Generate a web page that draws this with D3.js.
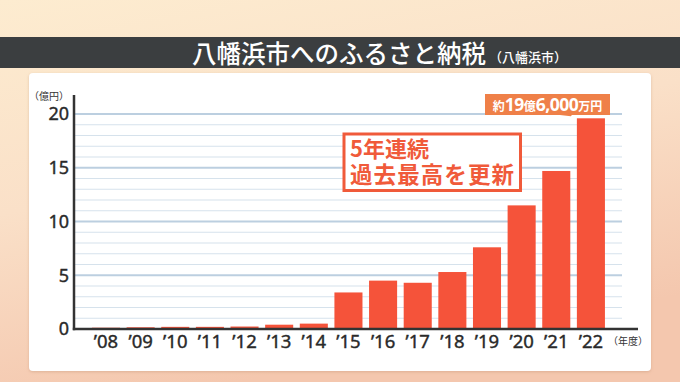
<!DOCTYPE html>
<html>
<head>
<meta charset="utf-8">
<script src="https://cdn.jsdelivr.net/npm/d3@7"></script>
<style>
  body { margin: 0; }
  text { font-family: "Noto Sans", "Noto Sans CJK JP", sans-serif; }
</style>
</head>
<body>
<div id="container"></div>
<script>
// data
const years = ["08", "09", "10", "11", "12", "13", "14", "15", "16", "17", "18", "19", "20", "21", "22"];
const amounts = [0.12, 0.16, 0.2, 0.2, 0.23, 0.4, 0.5, 3.4, 4.5, 4.3, 5.3, 7.6, 11.5, 14.7, 19.6];
const yTicks = [0, 5, 10, 15, 20];
const minorTicks = d3.range(1, 21);

const W = 680, H = 382;
const margin = { top: 114, right: 58, bottom: 53, left: 74 };

const svg = d3.select("#container").append("svg")
  .attr("width", W).attr("height", H);

// background
const defs = svg.append("defs");
const bg = defs.append("linearGradient").attr("id", "bg")
  .attr("x1", 0).attr("y1", 0).attr("x2", 0.35).attr("y2", 1);
bg.append("stop").attr("offset", 0).attr("stop-color", "#fdecd0");
bg.append("stop").attr("offset", 0.5).attr("stop-color", "#fae0c8");
bg.append("stop").attr("offset", 1).attr("stop-color", "#f4c7ae");
const shadow = defs.append("filter").attr("id", "shadow")
  .attr("x", -0.05).attr("y", -0.05).attr("width", 1.1).attr("height", 1.1);
shadow.append("feDropShadow").attr("dx", 0).attr("dy", 1)
  .attr("stdDeviation", 1.5).attr("flood-color", "#b08060").attr("flood-opacity", 0.35);

svg.append("rect").attr("width", W).attr("height", H).attr("fill", "url(#bg)");

// title bar
svg.append("rect").attr("x", 0).attr("y", 37).attr("width", W).attr("height", 31)
  .attr("fill", "#3b3e40");
svg.append("text").attr("x", 192).attr("y", 63)
  .attr("fill", "#fff").attr("font-size", 24.5).attr("font-weight", 500)
  .style("font-family", "'Noto Sans CJK JP'")
  .text("八幡浜市へのふるさと納税");
svg.append("text").attr("x", 489).attr("y", 62)
  .attr("fill", "#fff").attr("font-size", 13).attr("font-weight", 500)
  .style("font-family", "'Noto Sans CJK JP'")
  .text("（八幡浜市）");

// white panel
svg.append("rect").attr("x", 29).attr("y", 73).attr("width", 622).attr("height", 298)
  .attr("rx", 4).attr("fill", "#fff").attr("filter", "url(#shadow)");

const x = d3.scaleBand().domain(years).range([88.5, 608.4])
  .paddingInner(0.19).paddingOuter(0.1);
const y = d3.scaleLinear().domain([0, 20]).range([H - margin.bottom, margin.top]);

// grid
svg.append("g").selectAll("line").data(minorTicks).enter().append("line")
  .attr("x1", margin.left).attr("x2", 622)
  .attr("y1", (d) => y(d)).attr("y2", (d) => y(d))
  .attr("stroke", (d) => (d % 5 === 0 ? "#bccfe0" : "#d6e2ec"))
  .attr("stroke-width", (d) => (d % 5 === 0 ? 2 : 1.2));

// bars
svg.append("g").selectAll("rect").data(amounts).enter().append("rect")
  .attr("x", (d, i) => x(years[i]))
  .attr("width", x.bandwidth())
  .attr("y", (d) => y(d))
  .attr("height", (d) => y(0) - y(d))
  .attr("fill", "#f5533a");

// axes lines
svg.append("line").attr("x1", margin.left).attr("x2", margin.left)
  .attr("y1", 95).attr("y2", y(0) + 1.2)
  .attr("stroke", "#333").attr("stroke-width", 2.5);
svg.append("line").attr("x1", margin.left - 1.2).attr("x2", 638)
  .attr("y1", y(0)).attr("y2", y(0))
  .attr("stroke", "#333").attr("stroke-width", 2.5);

// y axis labels
const yAxis = svg.append("g").attr("transform", `translate(${margin.left},0)`)
  .call(d3.axisLeft(y).tickValues(yTicks).tickSize(0).tickPadding(5));
yAxis.select(".domain").remove();
yAxis.selectAll("text").attr("font-size", 18).attr("fill", "#2a2a2a")
  .attr("stroke", "#2a2a2a").attr("stroke-width", 0.4)
  .style("font-family", "'Noto Sans', sans-serif");

// x axis labels
const xAxis = svg.append("g").attr("transform", `translate(0,${y(0)})`)
  .call(d3.axisBottom(x).tickSize(0).tickFormat((d) => "’" + d));
xAxis.select(".domain").remove();
xAxis.selectAll("text").attr("font-size", 18.5).attr("fill", "#2a2a2a")
  .attr("stroke", "#2a2a2a").attr("stroke-width", 0.4)
  .attr("dy", null).attr("y", 19)
  .style("font-family", "'Noto Sans', sans-serif");

// unit labels
svg.append("text").attr("x", 69).attr("y", 100).attr("text-anchor", "end")
  .attr("font-size", 10).attr("fill", "#333")
  .style("font-family", "'Noto Sans CJK JP'").text("（億円）");
svg.append("text").attr("x", 608).attr("y", 345)
  .attr("font-size", 10).attr("fill", "#333")
  .style("font-family", "'Noto Sans CJK JP'").text("（年度）");

// annotation box
svg.append("rect").attr("x", 344).attr("y", 134).attr("width", 176.5).attr("height", 56.5)
  .attr("fill", "#fff").attr("stroke", "#f05a3a").attr("stroke-width", 3);
svg.append("text").attr("x", 350).attr("y", 157)
  .attr("font-size", 22).attr("font-weight", 700).attr("fill", "#f05a3a")
  .style("font-family", "'Noto Sans CJK JP'").text("5年連続");
svg.append("text").attr("x", 350).attr("y", 183)
  .attr("font-size", 22.5).attr("font-weight", 700).attr("fill", "#f05a3a")
  .attr("textLength", 164).attr("lengthAdjust", "spacing")
  .style("font-family", "'Noto Sans CJK JP'").text("過去最高を更新");

// callout for 2022
const last = years.length - 1;
const cx = x(years[last]);
svg.append("path")
  .attr("d", `M485,94 H610 V115 H${cx - 5} L${cx - 6},${y(amounts[last]) - 2} L${cx - 17},115 H485 Z`)
  .attr("fill", "#ef8048");
const callout = svg.append("text").attr("x", 547.5).attr("y", 110.5)
  .attr("text-anchor", "middle").attr("fill", "#fff").attr("font-weight", 700)
  .style("font-family", "'Noto Sans CJK JP'");
const parts = [["約", 12], ["19", 17.5], ["億", 12], ["6,000", 17.5], ["万円", 12]];
parts.forEach(([t, s]) => {
  callout.append("tspan").attr("font-size", s)
    .attr("letter-spacing", s > 12 ? -0.5 : 0)
    .style("font-family", s > 12 ? "'Noto Sans', sans-serif" : "'Noto Sans CJK JP'")
    .text(t);
});
</script>
</body>
</html>
